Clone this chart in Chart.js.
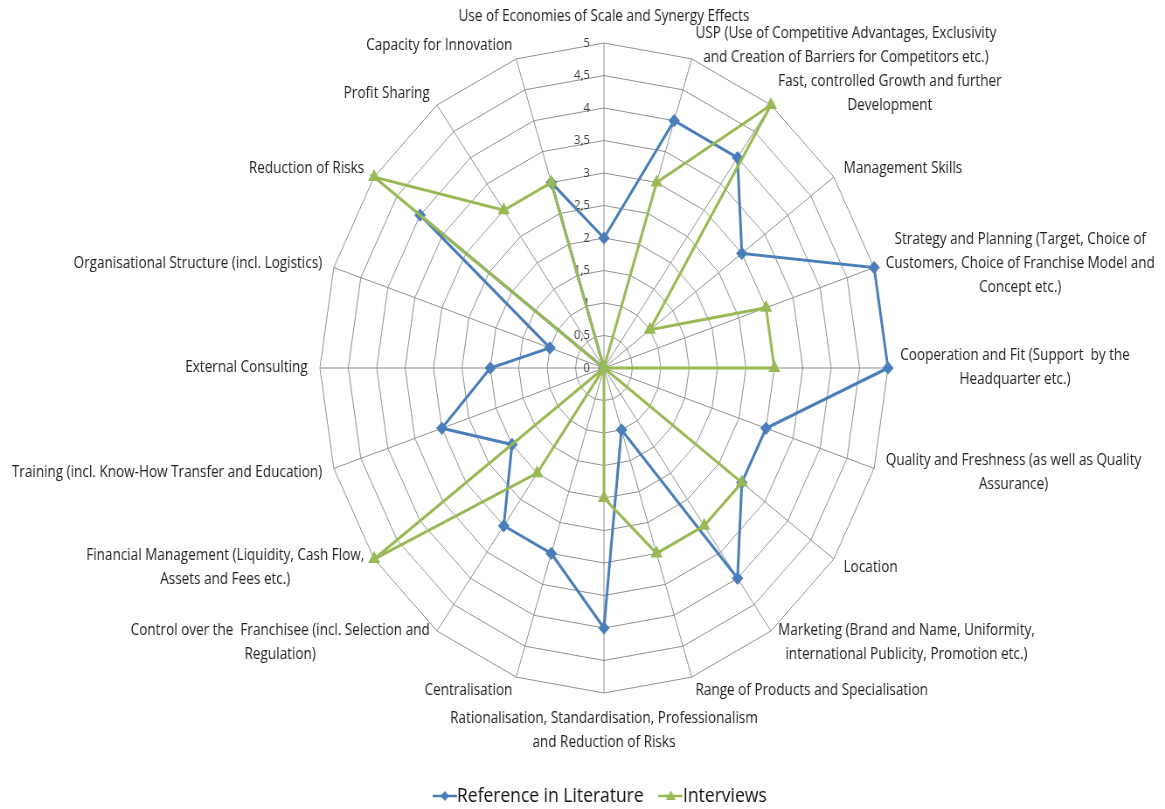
<!DOCTYPE html>
<html>
<head>
<meta charset="utf-8">
<script src="https://cdn.jsdelivr.net/npm/chart.js@4.4.1/dist/chart.umd.min.js"></script>
<style>
  html, body { margin: 0; padding: 0; background: #fff; overflow: hidden; }
  #wrap { width: 1333px; height: 839px; transform: translateY(-23px) scaleX(0.874); transform-origin: 0 0; }
</style>
</head>
<body>
<div id="wrap"><canvas id="radar" width="1333" height="839"></canvas></div>
<script>
const factors = [
  ["Use of Economies of Scale and Synergy Effects"],
  ["USP (Use of Competitive Advantages, Exclusivity", "and Creation of Barriers for Competitors etc.)"],
  ["Fast, controlled Growth and further", "Development"],
  ["Management Skills"],
  ["Strategy and Planning (Target, Choice of", "Customers, Choice of Franchise Model and", "Concept etc.)"],
  ["Cooperation and Fit (Support  by the", "Headquarter etc.)"],
  ["Quality and Freshness (as well as Quality", "Assurance)"],
  ["Location"],
  ["Marketing (Brand and Name, Uniformity,", "international Publicity, Promotion etc.)"],
  ["Range of Products and Specialisation"],
  ["Rationalisation, Standardisation, Professionalism", "and Reduction of Risks"],
  ["Centralisation"],
  ["Control over the  Franchisee (incl. Selection and", "Regulation)"],
  ["Financial Management (Liquidity, Cash Flow,", "Assets and Fees etc.)"],
  ["Training (incl. Know-How Transfer and Education)"],
  ["External Consulting"],
  ["Organisational Structure (incl. Logistics)"],
  ["Reduction of Risks"],
  ["Profit Sharing"],
  ["Capacity for Innovation"]
];

const literature = [2, 4, 4, 3, 5, 5, 3, 3, 4, 1, 4, 3, 3, 2, 3, 2, 1, 4, 0, 3];
const interviews = [0, 3, 5, 1, 3, 3, 0, 3, 3, 3, 2, 0, 2, 5, 0, 0, 0, 5, 3, 3];

const tickLabels = ["0", "0,5", "1", "1,5", "2", "2,5", "3", "3,5", "4", "4,5", "5"];

const BLUE = "#4a7ebb";
const GREEN = "#98b954";
const GRID = "#8f8f8f";
const FONT = "'Open Sans', sans-serif";

Chart.defaults.font.family = FONT;

// small line + marker picture for the legend
function legendIcon(color, style) {
  const c = document.createElement("canvas");
  c.width = 28;
  c.height = 14;
  const g = c.getContext("2d");
  g.strokeStyle = color;
  g.lineWidth = 2.5;
  g.beginPath();
  g.moveTo(0, 7);
  g.lineTo(28, 7);
  g.stroke();
  g.fillStyle = color;
  g.beginPath();
  if (style === "triangle") {
    g.moveTo(14, 1.5);
    g.lineTo(19.5, 11);
    g.lineTo(8.5, 11);
  } else {
    g.moveTo(14, 2);
    g.lineTo(19, 7);
    g.lineTo(14, 12);
    g.lineTo(9, 7);
  }
  g.closePath();
  g.fill();
  return c;
}

const radarText = {
  id: "radarText",
  beforeDatasetsDraw(chart) {
    const r = chart.scales.r;
    const ctx = chart.ctx;
    ctx.save();
    ctx.font = "13px " + FONT;
    ctx.fillStyle = "#404040";
    ctx.textAlign = "right";
    ctx.textBaseline = "middle";
    r.ticks.forEach((t, i) => {
      const d = r.getDistanceFromCenterForValue(t.value);
      ctx.fillText(tickLabels[i], r.xCenter - 16, r.yCenter - d);
    });
    ctx.restore();
  },
  afterDraw(chart) {
    const r = chart.scales.r;
    const ctx = chart.ctx;
    const lineH = 24;
    ctx.save();
    ctx.font = "15.5px " + FONT;
    ctx.fillStyle = "#222";
    ctx.textAlign = "center";
    ctx.textBaseline = "middle";
    chart.data.labels.forEach((lines, i) => {
      const pos = r.getPointPosition(i, r.drawingArea + 14);
      const w = Math.max(...lines.map(l => ctx.measureText(l).width));
      const h = lines.length * lineH;
      const dx = pos.x - r.xCenter;
      const dy = pos.y - r.yCenter;
      let cx = pos.x;
      let top = pos.y - h / 2;
      if (Math.abs(dx) < 1) {
        top = dy < 0 ? pos.y - h : pos.y;
      } else if (dx > 0) {
        cx = pos.x + w / 2;
      } else {
        cx = pos.x - w / 2;
      }
      lines.forEach((l, k) => ctx.fillText(l, cx, top + lineH * (k + 0.5)));
    });
    ctx.restore();
  }
};

new Chart(document.getElementById("radar"), {
  type: "radar",
  data: {
    labels: factors,
    datasets: [
      {
        label: "Reference in Literature",
        data: literature,
        borderColor: BLUE,
        backgroundColor: BLUE,
        pointBackgroundColor: BLUE,
        pointBorderColor: BLUE,
        pointStyle: "rectRot",
        pointRadius: 4.5,
        borderWidth: 3,
        fill: false,
        order: 1
      },
      {
        label: "Interviews",
        data: interviews,
        borderColor: GREEN,
        backgroundColor: GREEN,
        pointBackgroundColor: GREEN,
        pointBorderColor: GREEN,
        pointStyle: "triangle",
        pointRadius: 5,
        borderWidth: 3,
        fill: false,
        order: 0
      }
    ]
  },
  options: {
    responsive: false,
    animation: false,
    layout: { padding: { left: 366, right: 317, top: 0, bottom: 0 } },
    scales: {
      r: {
        min: 0,
        max: 5,
        ticks: { stepSize: 0.5, display: false },
        pointLabels: { display: false },
        grid: { color: GRID, lineWidth: 1, circular: false },
        angleLines: { color: GRID, lineWidth: 1 }
      }
    },
    plugins: {
      tooltip: { enabled: false },
      legend: {
        position: "bottom",
        labels: {
          usePointStyle: true,
          pointStyleWidth: 8,
          padding: 27,
          color: "#111",
          font: { size: 20, family: FONT },
          generateLabels: chart => chart.data.datasets.map((ds, i) => ({
            text: ds.label,
            datasetIndex: i,
            pointStyle: legendIcon(ds.borderColor, ds.pointStyle),
            fillStyle: ds.borderColor,
            strokeStyle: ds.borderColor,
            fontColor: "#111",
            lineWidth: 0,
            hidden: false
          }))
        }
      }
    }
  },
  plugins: [radarText]
});
</script>
</body>
</html>
